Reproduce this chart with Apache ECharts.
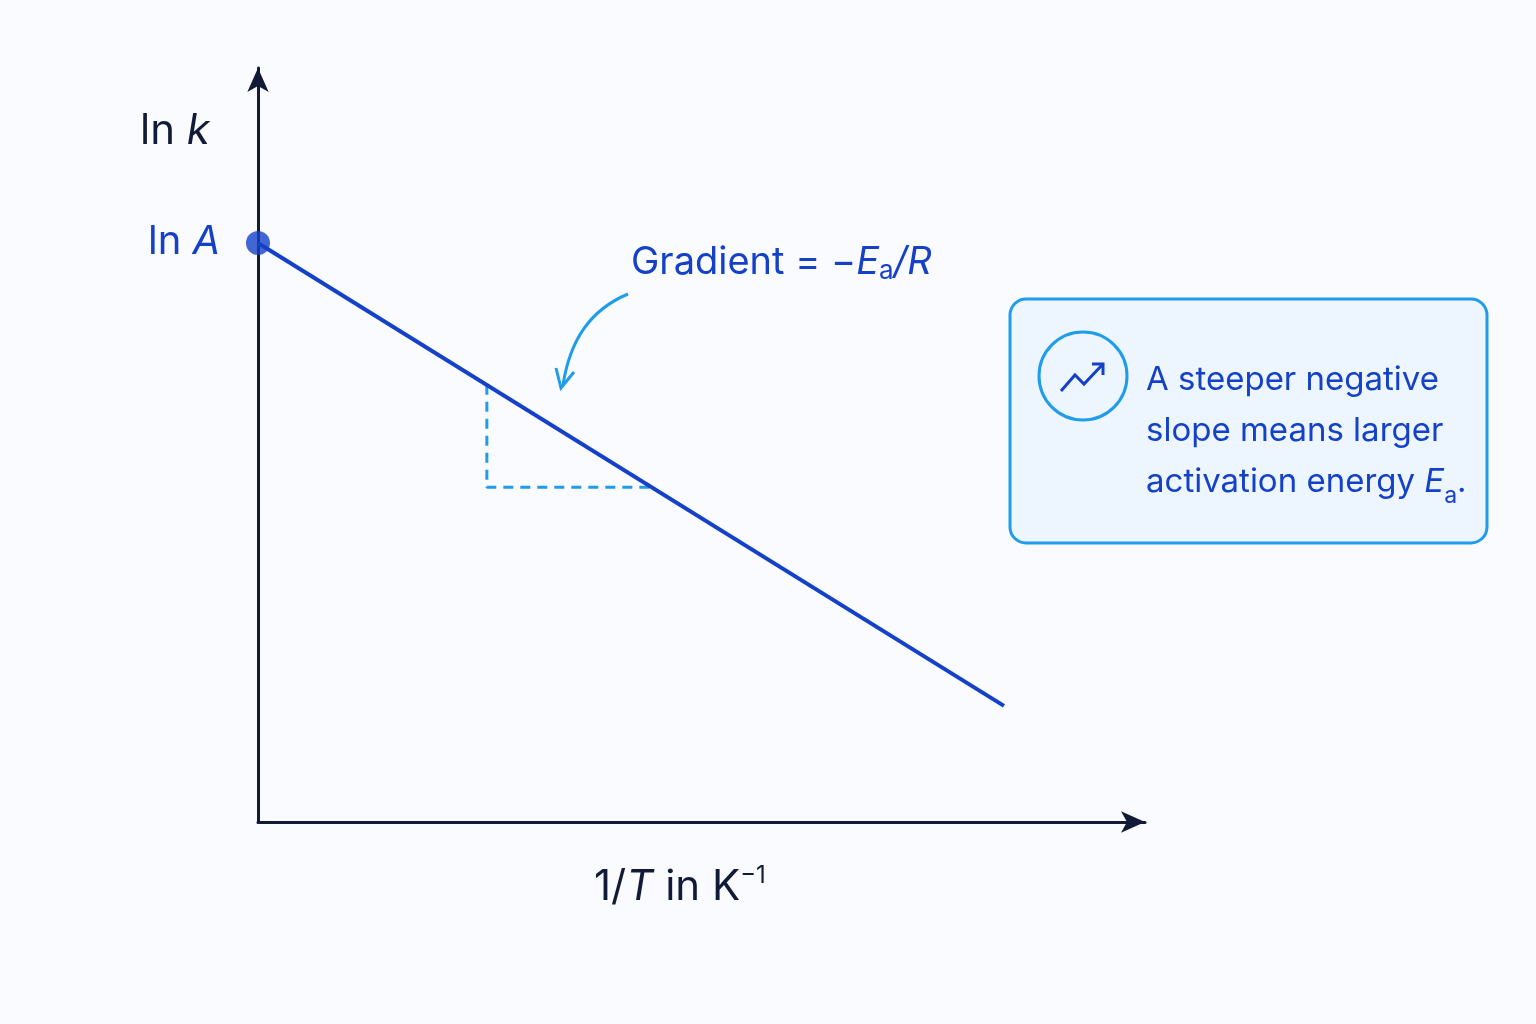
<!DOCTYPE html><html><head><meta charset="utf-8">
<script src="https://cdn.jsdelivr.net/npm/echarts@6/dist/echarts.min.js"></script>
<style>html,body{margin:0;background:#f9fbfe}#c{width:1536px;height:1024px}</style></head><body><div id="c"></div>
<script>
const lineX=[0,8.41];
const lineY=[7.68,1.54];
const triX=[2.58,2.58,4.44];
const triY=[5.80,4.44,4.44];
const chart=echarts.init(document.getElementById('c'));
const F='Inter, "Noto Sans", sans-serif';
const dark='#111a36', blue='#1441c8', light='#1f9cec';
chart.setOption({
 backgroundColor:'#f9fbfe',
 grid:{left:258,right:1536-1145,top:68,bottom:1024-822},
 xAxis:{type:'value',min:0,max:10,axisLine:{lineStyle:{color:dark,width:3},symbol:['none','arrow'],symbolSize:[16,24]},axisTick:{show:false},axisLabel:{show:false},splitLine:{show:false}},
 yAxis:{type:'value',min:0,max:10,axisLine:{show:true,lineStyle:{color:dark,width:3},symbol:['none','arrow'],symbolSize:[16,24]},axisTick:{show:false},axisLabel:{show:false},splitLine:{show:false}},
 series:[
  {type:'line',data:lineX.map((x,i)=>[x,lineY[i]]),lineStyle:{color:blue,width:4},symbol:'none',z:5},
  {type:'scatter',data:[[lineX[0],lineY[0]]],symbolSize:24,itemStyle:{color:blue},z:6},
  {type:'line',data:triX.map((x,i)=>[x,triY[i]]),lineStyle:{color:light,width:3,type:[10,7]},symbol:'none',z:4}
 ],
 graphic:[
  {type:'text',left:140,top:110,style:{text:'{a|ln }{b|k}',rich:{a:{fontSize:42,fontFamily:F,fill:dark},b:{fontSize:42,fontFamily:F,fill:dark,fontStyle:'italic'}}}},
  {type:'text',left:148,top:222,style:{text:'{a|ln }{b|A}',rich:{a:{fontSize:40,fontFamily:F,fill:blue},b:{fontSize:40,fontFamily:F,fill:blue,fontStyle:'italic'}}}},
  {type:'text',left:594,top:864,style:{text:'{a|1/}{b|T}{a| in K}{s|−1}',rich:{a:{fontSize:42,fontFamily:F,fill:dark},b:{fontSize:42,fontFamily:F,fill:dark,fontStyle:'italic'},s:{fontSize:24,fontFamily:F,fill:dark,verticalAlign:'top',padding:[0,0,22,0]}}}},
  {type:'text',left:631,top:244,style:{text:'{a|Gradient = −}{b|E}{s|a}{b|/R}',rich:{a:{fontSize:38,fontFamily:F,fill:blue},b:{fontSize:38,fontFamily:F,fill:blue,fontStyle:'italic'},s:{fontSize:26,fontFamily:F,fill:blue,verticalAlign:'bottom',padding:[16,0,0,0]}}}},
  {type:'bezierCurve',shape:{x1:628,y1:294,cpx1:590,cpy1:310,x2:563,y2:385,cpx2:570,cpy2:340},style:{stroke:light,lineWidth:3,fill:null}},
  {type:'polyline',shape:{points:[[556,368],[561,388],[574,372]]},style:{stroke:light,lineWidth:3,fill:null}},
  {type:'rect',shape:{x:1010,y:299,width:477,height:244,r:16},style:{fill:'#edf5fe',stroke:light,lineWidth:3}},
  {type:'circle',shape:{cx:1083,cy:376,r:44},style:{fill:'#edf5fe',stroke:light,lineWidth:3}},
  {type:'polyline',shape:{points:[[1061,391],[1075,375],[1084,384],[1103,364]]},style:{stroke:blue,lineWidth:3,fill:null}},
  {type:'polyline',shape:{points:[[1092,364],[1103,364],[1103,375]]},style:{stroke:blue,lineWidth:3,fill:null}},
  {type:'text',left:1146,top:355,style:{text:'A steeper negative\nslope means larger\n{a|activation energy }{b|E}{s|a}{a|.}',fontSize:33,lineHeight:51,fontFamily:F,fill:blue,rich:{a:{fontSize:33,fontFamily:F,fill:blue},b:{fontSize:33,fontFamily:F,fill:blue,fontStyle:'italic'},s:{fontSize:23,fontFamily:F,fill:blue,verticalAlign:'bottom',padding:[14,0,0,0]}}}}
 ]
});
</script></body></html>
